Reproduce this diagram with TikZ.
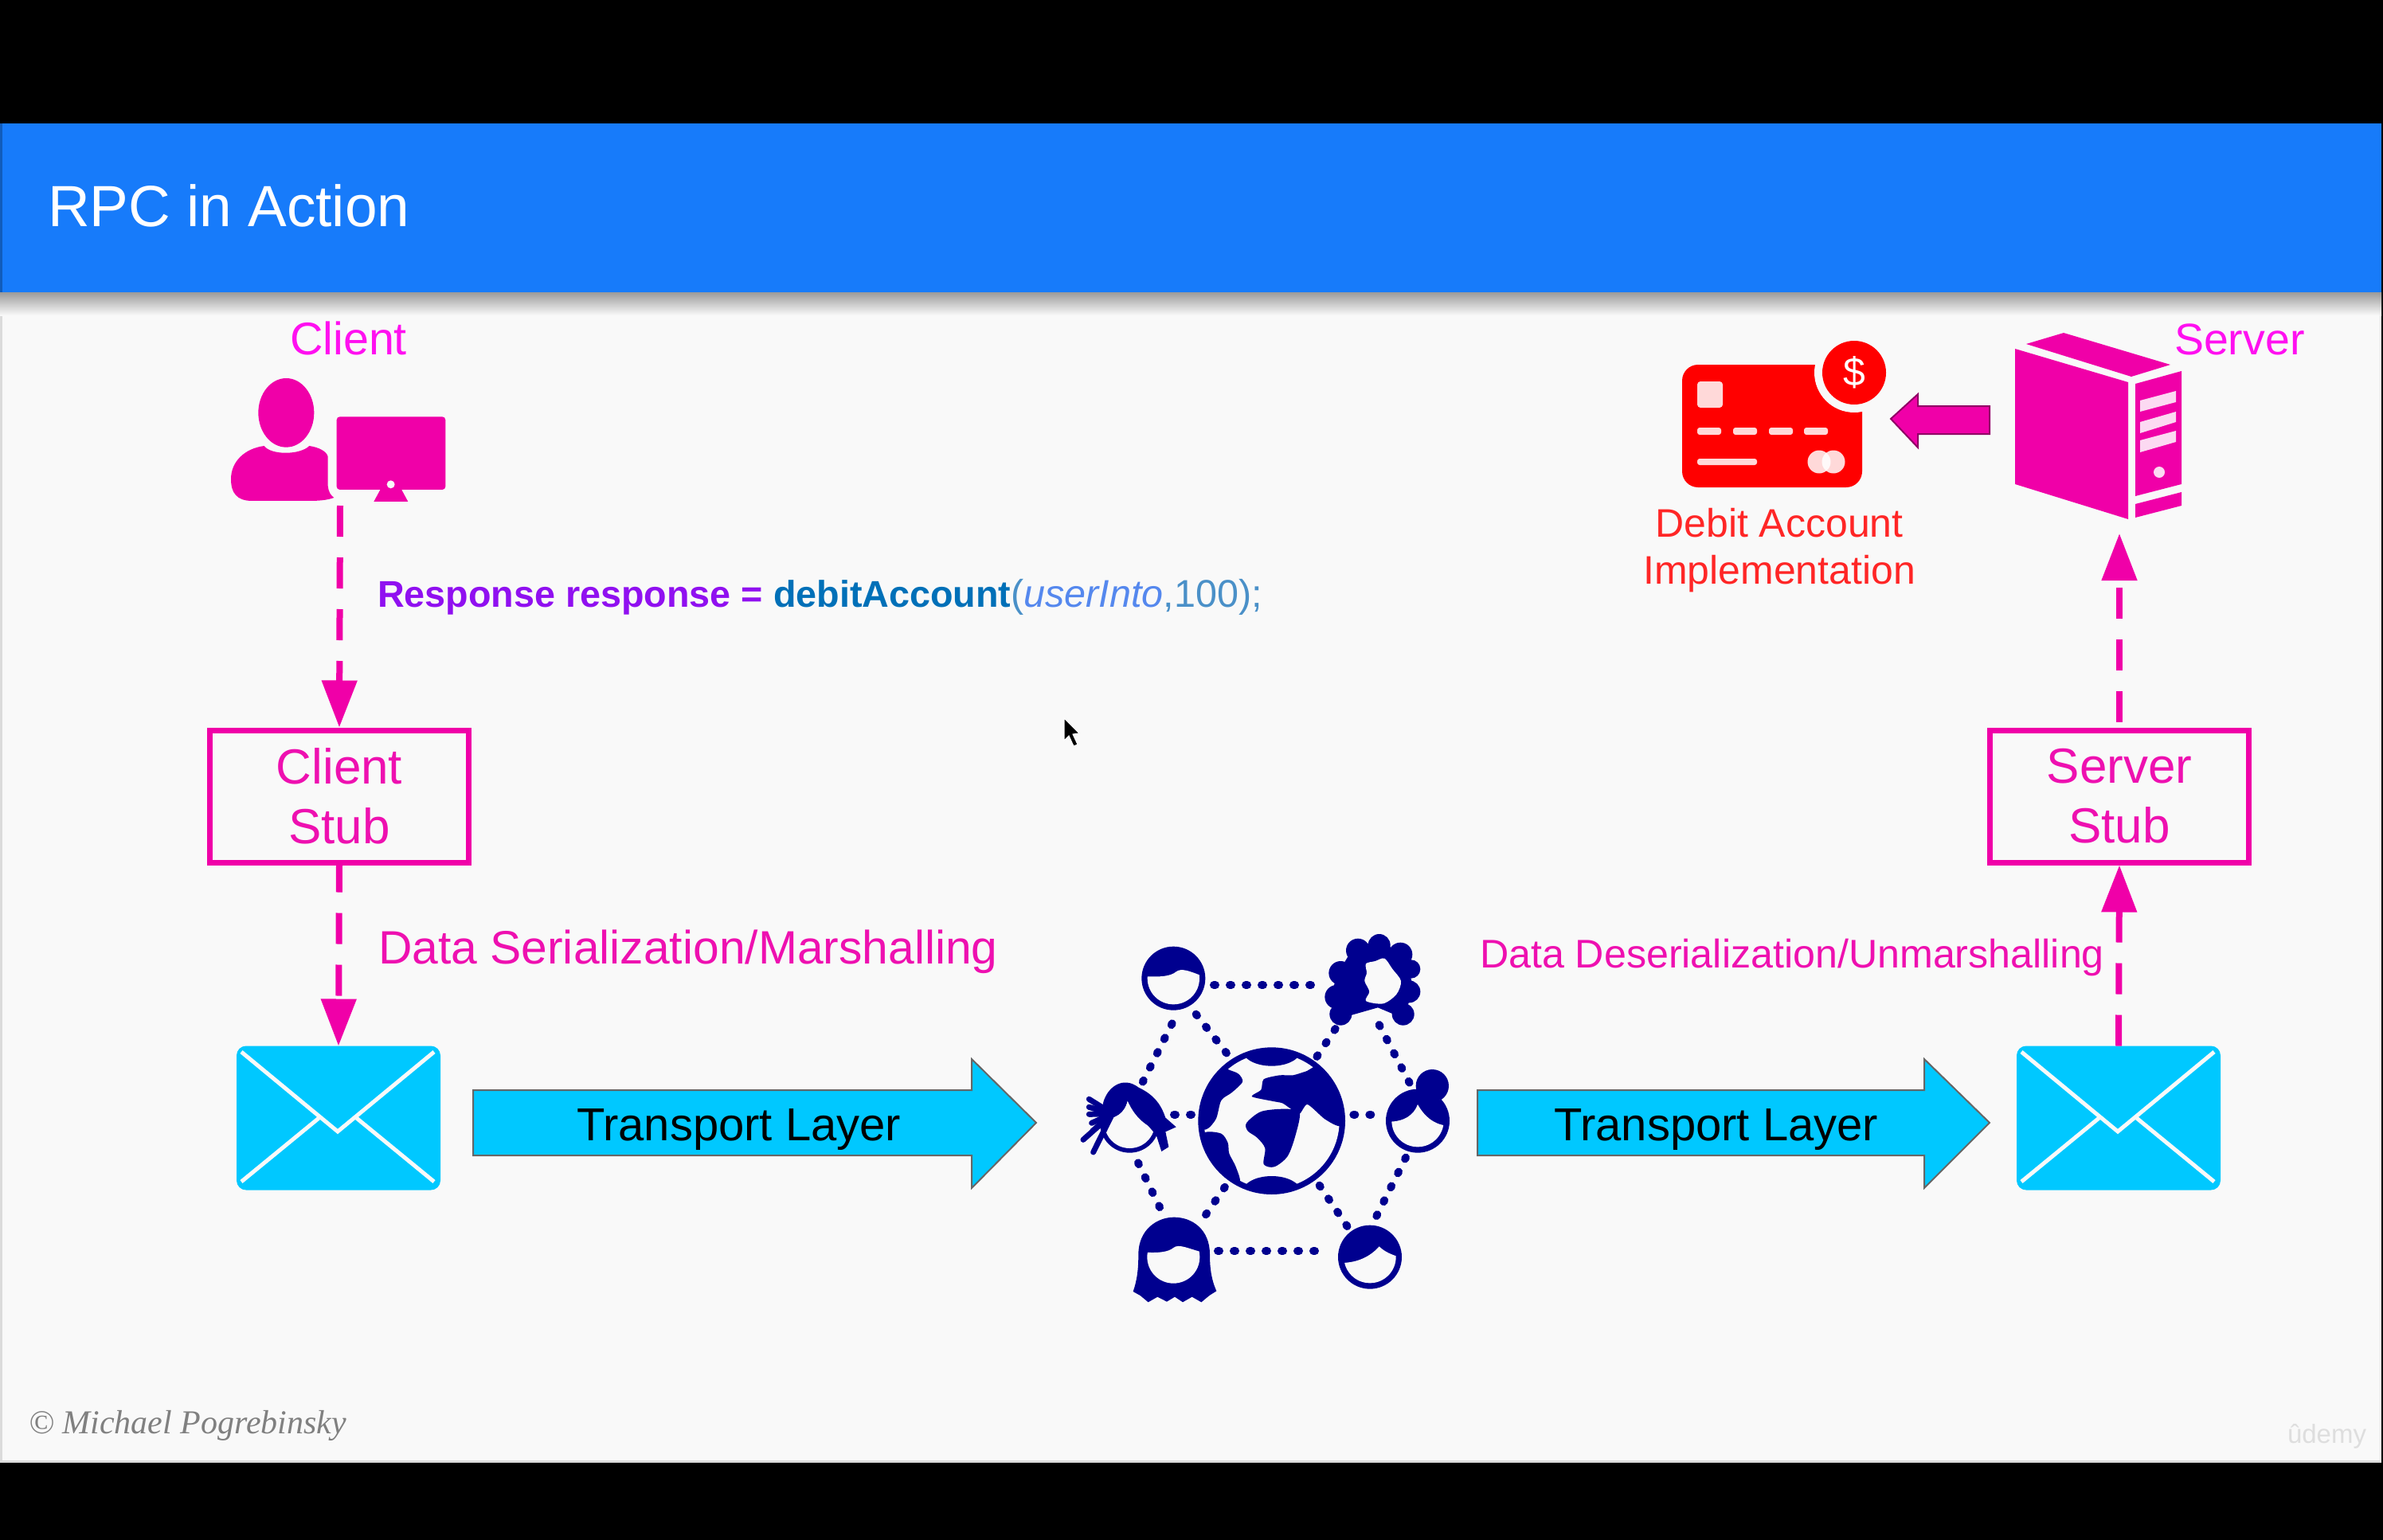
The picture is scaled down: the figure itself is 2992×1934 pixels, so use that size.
\documentclass[tikz,border=0pt]{standalone}
\usepackage{fontspec}
\setmainfont{Liberation Sans}
\newfontfamily\footerfont{Liberation Serif}
\usetikzlibrary{arrows.meta}
\definecolor{slidebg}{HTML}{F9F9F9}
\definecolor{bandblue}{HTML}{177BFA}
\definecolor{pinkfill}{HTML}{F000A8}
\definecolor{pinktext}{HTML}{EE10B0}
\definecolor{labelpink}{HTML}{FF10F0}
\definecolor{cyanfill}{HTML}{00C8FF}
\definecolor{netblue}{HTML}{00008F}
\definecolor{codepurple}{HTML}{9010F0}
\definecolor{codeblue}{HTML}{0070B8}
\definecolor{codelight}{HTML}{4A90C8}
\definecolor{codeital}{HTML}{5588EE}
\newcommand{\fsz}[1]{\fontsize{#1}{#1}\selectfont}
\tikzset{
  txt/.style={inner sep=0pt,outer sep=0pt,anchor=base west},
  pinkdash/.style={draw=pinkfill,line width=8pt,dash pattern=on 39pt off 26pt,
     -{Triangle[length=59pt,width=43pt]}},
  stubbox/.style={draw=pinkfill,line width=7pt,fill=slidebg,minimum width=325pt,minimum height=166pt,
     inner sep=0pt,align=center,text=pinktext,font=\fontsize{62}{75}\selectfont},
  envbox/.style={fill=cyanfill,rounded corners=12pt,minimum width=256pt,minimum height=181pt,inner sep=0pt,outer sep=0pt},
  envline/.style={draw=slidebg,line width=5pt},
  bigarrow/.style={fill=cyanfill,draw=black!60,line width=2pt,line join=miter},
  zoomunits/.style={x=0.33333pt,y=-0.33333pt},
  netdots/.style={draw=netblue,line width=10pt,line cap=round,dash pattern=on 2pt off 18pt},
}
\newcommand{\envlines}[1]{%
  \begin{scope}[shift={(#1)}]
    \draw[envline] (-122,-83) -- (-1,17) -- (120,-83);
    \draw[envline] (-24.5,0) -- (-122,80);
    \draw[envline] (22.5,0) -- (120,80);
  \end{scope}}
\begin{document}
\begin{tikzpicture}[x=1pt,y=-1pt]
\path[use as bounding box] (0,0) rectangle (2992,1934);
\fill[black] (0,0) rectangle (2992,1934);
\fill[slidebg] (0,368) rectangle (2990,1837);
\fill[black!14] (0,1834) rectangle (2990,1837);
\fill[black!14] (0,368) rectangle (3,1837);
\fill[black!10] (2988,368) rectangle (2990,1837);
\fill[bandblue] (0,155) rectangle (2990,368);
\fill[bandblue!75!black] (0,155) rectangle (3,368);
\shade[top color=black!38,bottom color=slidebg] (0,368) rectangle (2990,396);
\node[txt,text=white] (title) at (60,285) {\fsz{73}RPC in Action};

% --- client icon ---
\node[txt,text=labelpink] (clientlabel) at (364,445) {\fsz{57.5}Client};
\begin{scope}[shift={(240,380)},zoomunits]
  \fill[pinkfill] (358,415) ellipse (105 and 130);
  \fill[pinkfill] (275,540) .. controls (300,575) and (410,575) .. (445,540)
     .. controls (480,545) and (510,560) .. (515,580) -- (515,690)
     .. controls (518,715) and (525,725) .. (538,735)
     .. controls (510,745) and (480,747) .. (440,747) -- (230,747)
     .. controls (170,747) and (150,715) .. (150,665)
     .. controls (150,600) and (200,550) .. (275,540) -- cycle;
  \fill[pinkfill,rounded corners=4pt] (548,430) rectangle (958,705);
  \fill[pinkfill] (715,700) -- (790,700) -- (817,750) -- (688,750) -- cycle;
  \fill[slidebg] (752,685) circle (15);
\end{scope}
\coordinate (clientfoot) at (427,635);

% --- stubs ---
\node[stubbox] (cstub) at (426,1000) {Client\\Stub};
\node[stubbox] (sstub) at (2661,1000) {Server\\Stub};

% --- envelopes ---
\node[envbox] (lenv) at (425,1404) {};
\envlines{lenv}
\node[envbox] (renv) at (2660,1404) {};
\envlines{renv}

% --- pink connectors ---
\draw[pinkdash] (clientfoot) -- (cstub.north);
\draw[pinkdash,dash phase=5pt] (cstub.south) -- (lenv.north);
\draw[pinkdash] (renv.north) -- (sstub.south);
\coordinate (servertip) at (2661,670);
\draw[pinkdash,dash phase=58pt] (sstub.north) -- (servertip);

% --- labels ---
\node[txt] (code) at (474,762) {\fsz{46.7}\textcolor{codepurple}{\bfseries Response response = }\textcolor{codeblue}{\bfseries debitAccount}\fsz{48.5}\textcolor{codelight}{(}\textcolor{codeital}{\itshape userInto}\textcolor{codelight}{,100);}};
\node[txt,text=pinktext] (ser) at (475,1210) {\fsz{58.8}Data Serialization/Marshalling};
\node[txt,text=pinktext] (deser) at (1858,1215) {\fsz{50.2}Data Deserialization/Unmarshalling};

% --- transport arrows ---
\begin{scope}[yshift=-2pt]
\draw[bigarrow] (594,1367) -- (1220,1367) -- (1220,1328) -- (1301,1408) -- (1220,1490) -- (1220,1449) -- (594,1449) -- cycle;
\node[txt,text=black] (t1) at (724,1430) {\fsz{58}Transport Layer};
\draw[bigarrow] (1855,1367) -- (2416,1367) -- (2416,1328) -- (2498,1408) -- (2416,1490) -- (2416,1449) -- (1855,1449) -- cycle;
\node[txt,text=black] (t2) at (1951,1430) {\fsz{58}Transport Layer};
\end{scope}

% --- network icon ---
\begin{scope}[shift={(1330,1142)},zoomunits]
  \foreach \n/\xa/\ya/\xb/\yb in {
    ab/582/285/975/285, ef/597/1287/990/1287,
    ac/425/430/312/655, ag/515/395/635/548,
    bg/1040/450/968/558, bd/1205/435/1325/665,
    cg/432/773/510/773, dg/1108/773/1190/773,
    ce/297/955/382/1130, eg/552/1150/628/1040,
    fg/980/1040/1085/1195, fd/1195/1155/1305/935}{
    \coordinate (\n1) at (\xa,\ya);
    \coordinate (\n2) at (\xb,\yb);
    \draw[netdots] (\n1) -- (\n2);
  }
  % globe
  \fill[netblue] (800,797) circle (277);
  \fill[slidebg] (800,797) circle (255);
  \begin{scope}
    \clip (800,797) circle (260);
    \fill[netblue] (800,530) ellipse (110 and 60);
    \fill[netblue] (800,1065) ellipse (110 and 60);
    \fill[netblue] plot[smooth cycle,tension=0.5] coordinates {(640,605) (675,620) (690,650) (650,690) (610,720) (590,790) (550,830) (500,800) (520,690) (600,590)};
    \fill[netblue] plot[smooth cycle,tension=0.5] coordinates {(550,840) (610,845) (635,880) (640,920) (665,970) (680,1030) (630,1060) (560,950) (530,880)};
    \fill[netblue] plot[smooth cycle,tension=0.4] coordinates {(725,705) (760,680) (770,640) (830,625) (880,625) (930,610) (990,590) (1090,720) (1060,815) (1000,790) (935,735) (905,770) (870,750) (840,730) (800,722)};
    \fill[netblue] plot[smooth cycle,tension=0.5] coordinates {(705,805) (760,762) (850,752) (905,765) (890,850) (860,930) (810,970) (770,960) (775,900) (745,860) (710,835)};
  \end{scope}
  % head A
  \fill[netblue] (430,260) circle (120);
  \begin{scope}
    \clip (430,260) circle (98);
    \fill[slidebg] (320,252) .. controls (380,256) and (420,252) .. (440,235) .. controls (460,220) and (490,232) .. (540,252) -- (540,400) -- (320,400) -- cycle;
  \end{scope}
  % head B (afro)
  \fill[netblue] (1050,240) -- (1110,140) -- (1205,120) -- (1300,170) -- (1335,300) -- (1295,410) -- (1200,370) -- (1060,410) -- (1020,330) -- cycle;
  \foreach \cx/\cy/\r in {1205/135/42,1125/155/45,1285/170/45,1325/225/35,1318/310/42,1295/395/42,1060/240/45,1045/330/45,1060/395/42}{
    \fill[netblue] (\cx,\cy) circle (\r);
  }
  \fill[slidebg] plot[smooth cycle,tension=0.5] coordinates {(1155,205) (1190,195) (1225,185) (1255,225) (1287,270) (1270,320) (1220,355) (1155,345) (1168,310) (1150,270) (1158,240)};
  % head C
  \fill[netblue] (265,805) circle (112);
  \begin{scope}
    \clip (265,805) circle (95);
    \fill[slidebg] (160,790) .. controls (210,790) and (245,770) .. (257,720) .. controls (275,765) and (310,810) .. (365,830) -- (365,930) -- (160,930) -- cycle;
  \end{scope}
  \fill[netblue] (165,730) .. controls (180,670) and (240,625) .. (300,672) .. controls (360,700) and (385,740) .. (400,785) -- (440,820) -- (400,838) -- (412,895) -- (385,912) -- (365,850) -- (330,810) .. controls (300,780) and (270,750) .. (257,720) .. controls (245,770) and (210,790) .. (160,790) -- cycle;
  \foreach \xa/\ya in {112/715,112/745,112/772,122/805,125/835,90/868,128/915}{
    \draw[netblue,line width=7pt,line cap=round] (\xa,\ya) -- (200,770);
  }
  % head D
  \fill[netblue] (1405,665) circle (62);
  \fill[netblue] (1350,797) circle (120);
  \begin{scope}
    \clip (1350,797) circle (98);
    \fill[slidebg] (1240,800) .. controls (1300,800) and (1335,775) .. (1350,735) .. controls (1375,780) and (1410,810) .. (1460,815) -- (1460,930) -- (1240,930) -- cycle;
  \end{scope}
  % head E
  \fill[netblue] (298,1300) .. controls (298,1205) and (370,1160) .. (432,1160) .. controls (500,1160) and (567,1205) .. (567,1300)
     .. controls (567,1360) and (575,1400) .. (592,1438) -- (565,1455) -- (535,1480) -- (500,1460) -- (465,1480) -- (435,1460) -- (405,1478) -- (370,1460) -- (335,1480) -- (305,1455) -- (278,1440)
     .. controls (292,1400) and (298,1360) .. (298,1300) -- cycle;
  \begin{scope}
    \clip (430,1310) circle (99);
    \fill[slidebg] (320,1292) .. controls (370,1295) and (410,1292) .. (430,1275) .. controls (450,1258) and (490,1280) .. (540,1292) -- (540,1420) -- (320,1420) -- cycle;
  \end{scope}
  % head F
  \fill[netblue] (1170,1310) circle (120);
  \begin{scope}
    \clip (1170,1310) circle (98);
    \fill[slidebg] (1060,1332) .. controls (1120,1332) and (1170,1310) .. (1205,1270) .. controls (1225,1290) and (1250,1300) .. (1280,1310) -- (1280,1420) -- (1060,1420) -- cycle;
  \end{scope}
\end{scope}

% --- card ---
\fill[red,rounded corners=20pt] (2112,458) rectangle (2338,612);
\fill[slidebg] (2328,468) circle (50);
\fill[red] (2328,468) circle (40);
\node[text=white,inner sep=0pt] (dollar) at (2328,468) {\fsz{50}\$};
\begin{scope}[white,opacity=0.85]
  \fill[rounded corners=4pt] (2131,479) rectangle (2163,512);
  \foreach \xa in {2131,2176,2221,2265}{
    \fill[rounded corners=3pt] (\xa,537) rectangle (\xa+30,546);
  }
  \fill[rounded corners=3pt] (2131,576) rectangle (2206,584);
  \fill (2284,580) circle (14.5);
  \fill (2302,580) circle (14.5);
\end{scope}
\node[inner sep=0pt,align=center,text=red!85!white,anchor=north,font=\fontsize{50}{59}\selectfont] (debit) at (2234,638) {Debit Account\\Implementation};

% --- arrow from server to card ---
\coordinate (serverside) at (2498,545);
\draw[fill=pinkfill,draw=black!40!pinkfill,line width=2pt] (2498,510) -- (2408,510) -- (2408,495) -- (2374,526) -- (2408,562) -- (2408,545) -- (serverside) -- cycle;

% --- server tower ---
\fill[pinkfill] (2530,438) -- (2672,480) -- (2672,652) -- (2530,608) -- cycle;
\fill[pinkfill] (2544,432) -- (2591,418) -- (2725,458) -- (2676,473) -- cycle;
\fill[pinkfill] (2681,482) -- (2739,466) -- (2739,608) -- (2681,623) -- cycle;
\fill[pinkfill] (2681,633) -- (2739,618) -- (2739,635) -- (2681,650) -- cycle;
\fill[white,opacity=0.85] (2687,503) -- (2732,491) -- (2732,505) -- (2687,517) -- cycle;
\fill[white,opacity=0.85] (2687,530) -- (2732,517) -- (2732,530) -- (2687,544) -- cycle;
\fill[white,opacity=0.85] (2687,553) -- (2732,541) -- (2732,555) -- (2687,568) -- cycle;
\fill[white,opacity=0.85] (2711,593) circle (7);
\node[txt,text=labelpink] (serverlabel) at (2730,445) {\fsz{55.5}Server};

% --- footer ---
\node[txt,text=black!50] (copyr) at (36,1800) {\fsz{42}\footerfont\itshape © Michael Pogrebinsky};
\node[txt,text=black!13] (udemy) at (2872,1812) {\fsz{33}ûdemy};

% --- pointer ---
\draw[fill=black,draw=white,line width=1pt] (1336,902) -- (1336,930) -- (1342,924) -- (1348,937) -- (1353,935) -- (1347,922) -- (1355,921) -- cycle;
\end{tikzpicture}
\end{document}
